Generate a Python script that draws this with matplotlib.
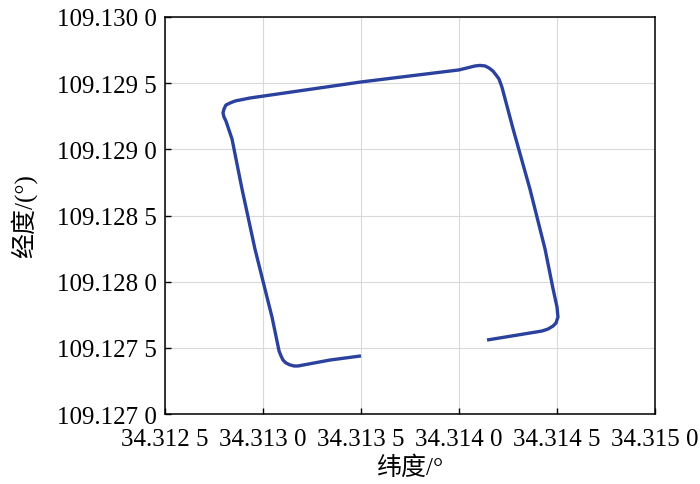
import matplotlib
import numpy as np
matplotlib.use('agg')
import matplotlib.pyplot as plt
from matplotlib.ticker import FuncFormatter, MultipleLocator

# 轨迹数据 (纬度, 经度)
lat = [34.31350, 34.313342, 34.313179, 34.313158, 34.313138, 34.313117,
       34.313102, 34.313092, 34.313082, 34.313046, 34.313010, 34.312959,
       34.312893, 34.312842, 34.312811, 34.312801, 34.312796, 34.312801,
       34.312811, 34.312832, 34.312857, 34.312934, 34.313500, 34.314000,
       34.314082, 34.314107, 34.314133, 34.314153, 34.314173, 34.314189,
       34.314204, 34.314219, 34.314276, 34.314362, 34.314439, 34.314480,
       34.314500, 34.314505, 34.314495, 34.314480, 34.314454, 34.314423,
       34.314143]
lon = [109.127439, 109.127408, 109.127363, 109.127363, 109.127371, 109.127386,
       109.127408, 109.127439, 109.127476, 109.127733, 109.127945, 109.128247,
       109.128700, 109.129078, 109.129214, 109.129244, 109.129275, 109.129305,
       109.129335, 109.129350, 109.129365, 109.129388, 109.129509, 109.129600,
       109.129630, 109.129634, 109.129630, 109.129615, 109.129592, 109.129562,
       109.129532, 109.129471, 109.129154, 109.128700, 109.128247, 109.127945,
       109.127809, 109.127733, 109.127688, 109.127665, 109.127642, 109.127627,
       109.127559]

plt.rcParams['font.family'] = ['Liberation Serif', 'Noto Sans CJK SC']


def fmt(v, pos):
    s = "%.4f" % v
    return s[:-1] + " " + s[-1]


fig = plt.figure(figsize=(7, 4.85), dpi=100)
ax = fig.add_axes([0.2357, 0.1443, 0.70, 0.8186])
ax.plot(lat, lon, color="#2b419e", linewidth=2.4,
        solid_capstyle="butt", solid_joinstyle="round")

ax.set_xlim(34.3125, 34.3150)
ax.set_ylim(109.1270, 109.1300)
ax.xaxis.set_major_locator(MultipleLocator(0.0005))
ax.yaxis.set_major_locator(MultipleLocator(0.0005))
ax.xaxis.set_major_formatter(FuncFormatter(fmt))
ax.yaxis.set_major_formatter(FuncFormatter(fmt))
ax.grid(True, color="#d9d9d9", linewidth=0.8)
ax.tick_params(direction="in", length=4, width=1, labelsize=18, pad=6)
ax.tick_params(axis="x", pad=10)
for sp in ax.spines.values():
    sp.set_linewidth(1.1)

ax.set_xlabel("纬度/°", fontsize=18, labelpad=4)
ax.set_ylabel("经度/(°)", fontsize=18, labelpad=14)

fig.savefig("out.png", dpi=100)
